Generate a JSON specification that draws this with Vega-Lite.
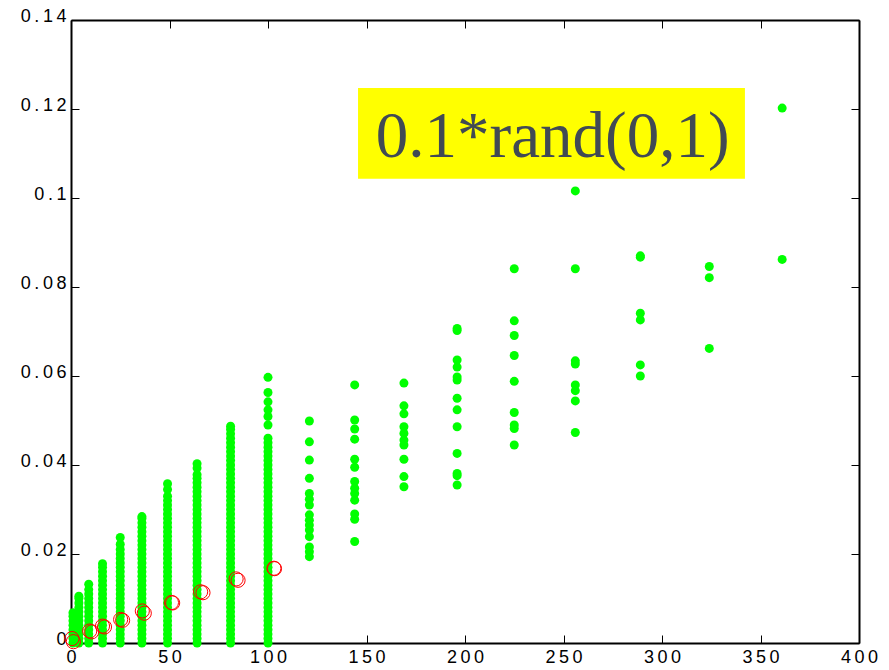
{
  "$schema": "https://vega.github.io/schema/vega-lite/v6.json",
  "autosize": "none",
  "width": 788,
  "height": 623,
  "padding": {"left": 71, "top": 20, "right": 30, "bottom": 27},
  "background": "white",
  "config": {
    "view": {"stroke": null},
    "axis": {
      "domainColor": "black", "domainWidth": 2, "tickColor": "black", "tickWidth": 1,
      "tickSize": -8, "grid": false, "labelFont": "Liberation Sans", "labelFontSize": 18,
      "labelColor": "black", "title": null
    }
  },
  "datasets": {
    "green": [
      {"x":1,"y":0},{"x":1,"y":0.001},{"x":1,"y":0.002},{"x":1,"y":0.003},{"x":1,"y":0.004},{"x":1,"y":0.005},{"x":1,"y":0.006},{"x":1,"y":0.0068},
      {"x":4,"y":0},{"x":4,"y":0.001},{"x":4,"y":0.002},{"x":4,"y":0.003},{"x":4,"y":0.004},{"x":4,"y":0.005},{"x":4,"y":0.006},{"x":4,"y":0.007},{"x":4,"y":0.008},{"x":4,"y":0.009},{"x":4,"y":0.010},{"x":4,"y":0.0105},
      {"x":9,"y":0},{"x":9,"y":0.001},{"x":9,"y":0.002},{"x":9,"y":0.003},{"x":9,"y":0.004},{"x":9,"y":0.005},{"x":9,"y":0.006},{"x":9,"y":0.007},{"x":9,"y":0.008},{"x":9,"y":0.009},{"x":9,"y":0.010},{"x":9,"y":0.011},{"x":9,"y":0.012},{"x":9,"y":0.0132},
      {"x":16,"y":0},{"x":16,"y":0.001},{"x":16,"y":0.002},{"x":16,"y":0.003},{"x":16,"y":0.004},{"x":16,"y":0.005},{"x":16,"y":0.006},{"x":16,"y":0.007},{"x":16,"y":0.008},{"x":16,"y":0.009},{"x":16,"y":0.010},{"x":16,"y":0.011},{"x":16,"y":0.012},{"x":16,"y":0.013},{"x":16,"y":0.014},{"x":16,"y":0.015},{"x":16,"y":0.016},{"x":16,"y":0.017},{"x":16,"y":0.0178},
      {"x":25,"y":0},{"x":25,"y":0.001},{"x":25,"y":0.002},{"x":25,"y":0.003},{"x":25,"y":0.004},{"x":25,"y":0.005},{"x":25,"y":0.006},{"x":25,"y":0.007},{"x":25,"y":0.008},{"x":25,"y":0.009},{"x":25,"y":0.010},{"x":25,"y":0.011},{"x":25,"y":0.012},{"x":25,"y":0.013},{"x":25,"y":0.014},{"x":25,"y":0.015},{"x":25,"y":0.016},{"x":25,"y":0.017},{"x":25,"y":0.018},{"x":25,"y":0.019},{"x":25,"y":0.020},{"x":25,"y":0.021},{"x":25,"y":0.0222},{"x":25,"y":0.0237},
      {"x":36,"y":0},{"x":36,"y":0.001},{"x":36,"y":0.002},{"x":36,"y":0.003},{"x":36,"y":0.004},{"x":36,"y":0.005},{"x":36,"y":0.006},{"x":36,"y":0.007},{"x":36,"y":0.008},{"x":36,"y":0.009},{"x":36,"y":0.010},{"x":36,"y":0.011},{"x":36,"y":0.012},{"x":36,"y":0.013},{"x":36,"y":0.014},{"x":36,"y":0.015},{"x":36,"y":0.016},{"x":36,"y":0.017},{"x":36,"y":0.018},{"x":36,"y":0.019},{"x":36,"y":0.020},{"x":36,"y":0.021},{"x":36,"y":0.022},{"x":36,"y":0.023},{"x":36,"y":0.024},{"x":36,"y":0.025},{"x":36,"y":0.026},{"x":36,"y":0.027},{"x":36,"y":0.028},{"x":36,"y":0.0284},
      {"x":49,"y":0},{"x":49,"y":0.001},{"x":49,"y":0.002},{"x":49,"y":0.003},{"x":49,"y":0.004},{"x":49,"y":0.005},{"x":49,"y":0.006},{"x":49,"y":0.007},{"x":49,"y":0.008},{"x":49,"y":0.009},{"x":49,"y":0.010},{"x":49,"y":0.011},{"x":49,"y":0.012},{"x":49,"y":0.013},{"x":49,"y":0.014},{"x":49,"y":0.015},{"x":49,"y":0.016},{"x":49,"y":0.017},{"x":49,"y":0.018},{"x":49,"y":0.019},{"x":49,"y":0.020},{"x":49,"y":0.021},{"x":49,"y":0.022},{"x":49,"y":0.023},{"x":49,"y":0.024},{"x":49,"y":0.025},{"x":49,"y":0.026},{"x":49,"y":0.027},{"x":49,"y":0.028},{"x":49,"y":0.029},{"x":49,"y":0.030},{"x":49,"y":0.031},{"x":49,"y":0.032},{"x":49,"y":0.0330},{"x":49,"y":0.0345},{"x":49,"y":0.0358},
      {"x":64,"y":0},{"x":64,"y":0.001},{"x":64,"y":0.002},{"x":64,"y":0.003},{"x":64,"y":0.004},{"x":64,"y":0.005},{"x":64,"y":0.006},{"x":64,"y":0.007},{"x":64,"y":0.008},{"x":64,"y":0.009},{"x":64,"y":0.010},{"x":64,"y":0.011},{"x":64,"y":0.012},{"x":64,"y":0.013},{"x":64,"y":0.014},{"x":64,"y":0.015},{"x":64,"y":0.016},{"x":64,"y":0.017},{"x":64,"y":0.018},{"x":64,"y":0.019},{"x":64,"y":0.020},{"x":64,"y":0.021},{"x":64,"y":0.022},{"x":64,"y":0.023},{"x":64,"y":0.024},{"x":64,"y":0.025},{"x":64,"y":0.026},{"x":64,"y":0.027},{"x":64,"y":0.028},{"x":64,"y":0.029},{"x":64,"y":0.030},{"x":64,"y":0.031},{"x":64,"y":0.032},{"x":64,"y":0.033},{"x":64,"y":0.034},{"x":64,"y":0.035},{"x":64,"y":0.036},{"x":64,"y":0.037},{"x":64,"y":0.0378},{"x":64,"y":0.0393},{"x":64,"y":0.0403},
      {"x":81,"y":0},{"x":81,"y":0.001},{"x":81,"y":0.002},{"x":81,"y":0.003},{"x":81,"y":0.004},{"x":81,"y":0.005},{"x":81,"y":0.006},{"x":81,"y":0.007},{"x":81,"y":0.008},{"x":81,"y":0.009},{"x":81,"y":0.010},{"x":81,"y":0.011},{"x":81,"y":0.012},{"x":81,"y":0.013},{"x":81,"y":0.014},{"x":81,"y":0.015},{"x":81,"y":0.016},{"x":81,"y":0.017},{"x":81,"y":0.018},{"x":81,"y":0.019},{"x":81,"y":0.020},{"x":81,"y":0.021},{"x":81,"y":0.022},{"x":81,"y":0.023},{"x":81,"y":0.024},{"x":81,"y":0.025},{"x":81,"y":0.026},{"x":81,"y":0.027},{"x":81,"y":0.028},{"x":81,"y":0.029},{"x":81,"y":0.030},{"x":81,"y":0.031},{"x":81,"y":0.032},{"x":81,"y":0.033},{"x":81,"y":0.034},{"x":81,"y":0.035},{"x":81,"y":0.036},{"x":81,"y":0.037},{"x":81,"y":0.038},{"x":81,"y":0.039},{"x":81,"y":0.040},{"x":81,"y":0.041},{"x":81,"y":0.042},{"x":81,"y":0.043},{"x":81,"y":0.044},{"x":81,"y":0.045},{"x":81,"y":0.046},{"x":81,"y":0.047},{"x":81,"y":0.048},{"x":81,"y":0.0487},
      {"x":100,"y":0},{"x":100,"y":0.001},{"x":100,"y":0.002},{"x":100,"y":0.003},{"x":100,"y":0.004},{"x":100,"y":0.005},{"x":100,"y":0.006},{"x":100,"y":0.007},{"x":100,"y":0.008},{"x":100,"y":0.009},{"x":100,"y":0.010},{"x":100,"y":0.011},{"x":100,"y":0.012},{"x":100,"y":0.013},{"x":100,"y":0.014},{"x":100,"y":0.015},{"x":100,"y":0.016},{"x":100,"y":0.017},{"x":100,"y":0.018},{"x":100,"y":0.019},{"x":100,"y":0.020},{"x":100,"y":0.021},{"x":100,"y":0.022},{"x":100,"y":0.023},{"x":100,"y":0.024},{"x":100,"y":0.025},{"x":100,"y":0.026},{"x":100,"y":0.027},{"x":100,"y":0.028},{"x":100,"y":0.029},{"x":100,"y":0.030},{"x":100,"y":0.031},{"x":100,"y":0.032},{"x":100,"y":0.033},{"x":100,"y":0.034},{"x":100,"y":0.035},{"x":100,"y":0.036},{"x":100,"y":0.037},{"x":100,"y":0.038},{"x":100,"y":0.039},{"x":100,"y":0.040},{"x":100,"y":0.041},{"x":100,"y":0.042},{"x":100,"y":0.043},{"x":100,"y":0.044},{"x":100,"y":0.045},{"x":100,"y":0.046},{"x":100,"y":0.0490},{"x":100,"y":0.0509},{"x":100,"y":0.0524},{"x":100,"y":0.0542},{"x":100,"y":0.0563},{"x":100,"y":0.0597},
      {"x":121,"y":0.0499},{"x":121,"y":0.0452},{"x":121,"y":0.0411},{"x":121,"y":0.0370},{"x":121,"y":0.0336},{"x":121,"y":0.0323},{"x":121,"y":0.0310},{"x":121,"y":0.0288},{"x":121,"y":0.0276},{"x":121,"y":0.0265},{"x":121,"y":0.0254},{"x":121,"y":0.0239},{"x":121,"y":0.0216},{"x":121,"y":0.0205},{"x":121,"y":0.0194},
      {"x":144,"y":0.0580},{"x":144,"y":0.0501},{"x":144,"y":0.0481},{"x":144,"y":0.0458},{"x":144,"y":0.0413},{"x":144,"y":0.0395},{"x":144,"y":0.0363},{"x":144,"y":0.0348},{"x":144,"y":0.0336},{"x":144,"y":0.0321},{"x":144,"y":0.0290},{"x":144,"y":0.0278},{"x":144,"y":0.0228},
      {"x":169,"y":0.0584},{"x":169,"y":0.0533},{"x":169,"y":0.0515},{"x":169,"y":0.0486},{"x":169,"y":0.0471},{"x":169,"y":0.0456},{"x":169,"y":0.0445},{"x":169,"y":0.0413},{"x":169,"y":0.0374},{"x":169,"y":0.0351},
      {"x":196,"y":0.0707},{"x":196,"y":0.0702},{"x":196,"y":0.0636},{"x":196,"y":0.0620},{"x":196,"y":0.0598},{"x":196,"y":0.0591},{"x":196,"y":0.0550},{"x":196,"y":0.0524},{"x":196,"y":0.0486},{"x":196,"y":0.0426},{"x":196,"y":0.0381},{"x":196,"y":0.0376},{"x":196,"y":0.0355},
      {"x":225,"y":0.0841},{"x":225,"y":0.0724},{"x":225,"y":0.0691},{"x":225,"y":0.0646},{"x":225,"y":0.0588},{"x":225,"y":0.0518},{"x":225,"y":0.0490},{"x":225,"y":0.0482},{"x":225,"y":0.0445},
      {"x":256,"y":0.1016},{"x":256,"y":0.0841},{"x":256,"y":0.0634},{"x":256,"y":0.0627},{"x":256,"y":0.0580},{"x":256,"y":0.0567},{"x":256,"y":0.0544},{"x":256,"y":0.0473},
      {"x":289,"y":0.0870},{"x":289,"y":0.0867},{"x":289,"y":0.0741},{"x":289,"y":0.0726},{"x":289,"y":0.0625},{"x":289,"y":0.0600},
      {"x":324,"y":0.0846},{"x":324,"y":0.0821},{"x":324,"y":0.0662},
      {"x":361,"y":0.1202},{"x":361,"y":0.0862}
    ],
    "red": [
      {"x":0.5,"y":0.0010},{"x":1.2,"y":0.0003},
      {"x":9.5,"y":0.0027},{"x":10.5,"y":0.0025},
      {"x":16.0,"y":0.0038},{"x":17.0,"y":0.0036},
      {"x":25.2,"y":0.0053},{"x":26.2,"y":0.0051},
      {"x":36.2,"y":0.0072},{"x":37.2,"y":0.0067},
      {"x":51.0,"y":0.0091},{"x":51.6,"y":0.0090},
      {"x":65.8,"y":0.0115},{"x":67.0,"y":0.0113},
      {"x":83.8,"y":0.0144},{"x":84.8,"y":0.0141},
      {"x":103.0,"y":0.0168},{"x":103.3,"y":0.0167}
    ],
    "note": [
      {"x1":145.7,"x2":342.1,"y1":0.1247,"y2":0.1043,"tx":244.5,"ty":0.1092,"label":"0.1*rand(0,1)"}
    ]
  },
  "layer": [
    {
      "data": {"name": "green"},
      "mark": {"type": "point", "shape": "circle", "filled": true, "size": 81, "color": "#00ff00", "opacity": 1},
      "encoding": {
        "x": {"field": "x", "type": "quantitative", "scale": {"domain": [0, 400], "nice": false, "zero": false},
              "axis": {"orient": "bottom", "values": [0,50,100,150,200,250,300,350,400], "labelExpr": "join(split(format(datum.value,'~g'),''),'\u2009')", "labelPadding": 13, "labelFlush": false}},
        "y": {"field": "y", "type": "quantitative", "scale": {"domain": [0, 0.14], "nice": false, "zero": false},
              "axis": {"orient": "left", "values": [0,0.02,0.04,0.06,0.08,0.1,0.12,0.14], "labelExpr": "join(split(format(datum.value,'~g'),''),'\u2009')", "labelPadding": 13, "labelOffset": -4, "labelFlush": false}}
      }
    },
    {
      "data": {"name": "red"},
      "mark": {"type": "point", "shape": "circle", "filled": false, "size": 200, "stroke": "#ff0000", "strokeWidth": 1, "opacity": 1},
      "encoding": {
        "x": {"field": "x", "type": "quantitative", "scale": {"domain": [0, 400], "nice": false, "zero": false},
              "axis": {"orient": "top", "values": [0,50,100,150,200,250,300,350,400], "labels": false}},
        "y": {"field": "y", "type": "quantitative", "scale": {"domain": [0, 0.14], "nice": false, "zero": false},
              "axis": {"orient": "right", "values": [0,0.02,0.04,0.06,0.08,0.1,0.12,0.14], "labels": false}}
      }
    },
    {
      "data": {"name": "note"},
      "mark": {"type": "rect", "color": "#ffff00"},
      "encoding": {
        "x": {"field": "x1", "type": "quantitative", "axis": null},
        "x2": {"field": "x2"},
        "y": {"field": "y1", "type": "quantitative", "axis": null},
        "y2": {"field": "y2"}
      }
    },
    {
      "data": {"name": "note"},
      "mark": {"type": "text", "font": "Liberation Serif", "fontSize": 65, "color": "#414a54", "align": "center", "baseline": "alphabetic"},
      "encoding": {
        "x": {"field": "tx", "type": "quantitative", "axis": null},
        "y": {"field": "ty", "type": "quantitative", "axis": null},
        "text": {"field": "label"}
      }
    }
  ],
  "resolve": {"axis": {"x": "independent", "y": "independent"}}
}
